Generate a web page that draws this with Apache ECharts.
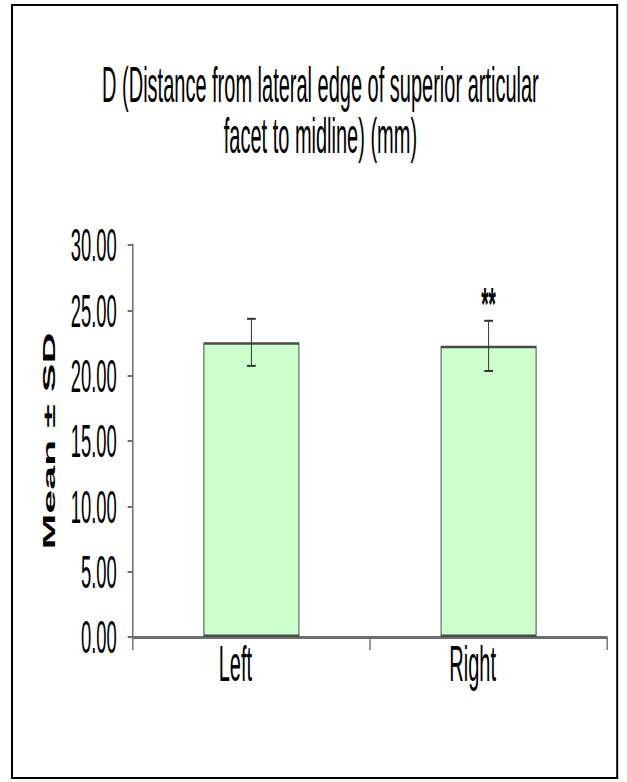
<!DOCTYPE html>
<html>
<head>
<meta charset="utf-8">
<script src="https://cdn.jsdelivr.net/npm/echarts@6/dist/echarts.min.js"></script>
<style>
  html, body { margin: 0; padding: 0; background: #fff; overflow: hidden; }
  #wrap { width: 627px; height: 782px; overflow: hidden; }
  /* the reference is a horizontally compressed chart: draw wide, then squeeze */
  #chart { width: 1568px; height: 782px; transform: scaleX(0.4); transform-origin: 0 0; }
</style>
</head>
<body>
<div id="wrap"><div id="chart"></div></div>
<script>
const categories = ['Left', 'Right'];
const means = [22.55, 22.28];
const sds = [1.8, 1.92];
const significance = ['', '**'];
const yMin = 0, yMax = 30, yStep = 5;
const titleText = 'D (Distance from lateral edge of superior articular\nfacet to midline) (mm)';
const yName = 'Mean \u00b1 SD';

const FONT = '"Liberation Sans", Arial, sans-serif';
const chart = echarts.init(document.getElementById('chart'), null, { renderer: 'svg' });

const errData = categories.map((c, i) => [i, means[i] - sds[i], means[i] + sds[i]]);

chart.setOption({
  animation: false,
  backgroundColor: '#fff',
  title: {
    text: titleText,
    left: 796,
    top: 54,
    textAlign: 'center',
    textStyle: { fontFamily: FONT, fontSize: 50, fontWeight: 'normal', color: '#000', lineHeight: 51 }
  },
  graphic: [
    { type: 'line', shape: { x1: 30, y1: 5, x2: 1543, y2: 5 }, style: { stroke: '#000', lineWidth: 2 } },
    { type: 'line', shape: { x1: 30, y1: 778, x2: 1543, y2: 778 }, style: { stroke: '#000', lineWidth: 2 } },
    { type: 'line', shape: { x1: 30, y1: 4, x2: 30, y2: 779 }, style: { stroke: '#000', lineWidth: 5 } },
    { type: 'line', shape: { x1: 1543, y1: 4, x2: 1543, y2: 779 }, style: { stroke: '#000', lineWidth: 5 } }
  ],
  grid: { left: 332, right: 50, top: 245, bottom: 145, containLabel: false },
  xAxis: {
    type: 'category',
    data: categories,
    boundaryGap: true,
    axisLine: { lineStyle: { color: '#6e6e6e', width: 3 } },
    axisTick: { show: true, inside: false, length: 13, alignWithLabel: false, lineStyle: { color: '#6e6e6e', width: 3.5 } },
    axisLabel: { fontFamily: FONT, fontSize: 50, color: '#000', margin: 2, padding: [0, 80, 0, 0] },
    splitLine: { show: false }
  },
  yAxis: {
    type: 'value',
    min: yMin, max: yMax, interval: yStep,
    name: yName,
    nameLocation: 'middle',
    nameGap: 187,
    nameRotate: 90,
    nameTextStyle: { fontFamily: FONT, fontSize: 43, fontWeight: 'bold', color: '#000' },
    axisLine: { show: true, lineStyle: { color: '#6e6e6e', width: 3.75 } },
    axisTick: { show: true, inside: false, length: 13, lineStyle: { color: '#6e6e6e', width: 2 } },
    axisLabel: { fontFamily: FONT, fontSize: 46, color: '#000', margin: 40, formatter: v => v.toFixed(2) },
    splitLine: { show: false }
  },
  series: [
    {
      type: 'bar',
      data: means,
      barWidth: 240,
      itemStyle: { color: '#ccffcc', borderColor: '#4a4a4a', borderWidth: 2.5 },
      z: 2
    },
    {
      type: 'custom',
      data: errData,
      z: 5,
      renderItem: function (params, api) {
        const i = params.dataIndex;
        const lo = api.coord([api.value(0), api.value(1)]);
        const hi = api.coord([api.value(0), api.value(2)]);
        const x = lo[0];
        const half = 11;
        const st = { stroke: '#333', lineWidth: 2 };
        const children = [
          { type: 'line', shape: { x1: x, y1: hi[1], x2: x, y2: lo[1] }, style: { stroke: '#333', lineWidth: 2.5 } },
          { type: 'line', shape: { x1: x - half, y1: hi[1], x2: x + half, y2: hi[1] }, style: st },
          { type: 'line', shape: { x1: x - half, y1: lo[1], x2: x + half, y2: lo[1] }, style: st }
        ];
        if (significance[i]) {
          children.push({
            type: 'text',
            style: {
              text: significance[i], x: x, y: hi[1] - 17,
              textAlign: 'center', textVerticalAlign: 'middle',
              font: 'bold 47px ' + FONT, fill: '#000'
            }
          });
        }
        return { type: 'group', children: children };
      }
    }
  ]
});
</script>
</body>
</html>
